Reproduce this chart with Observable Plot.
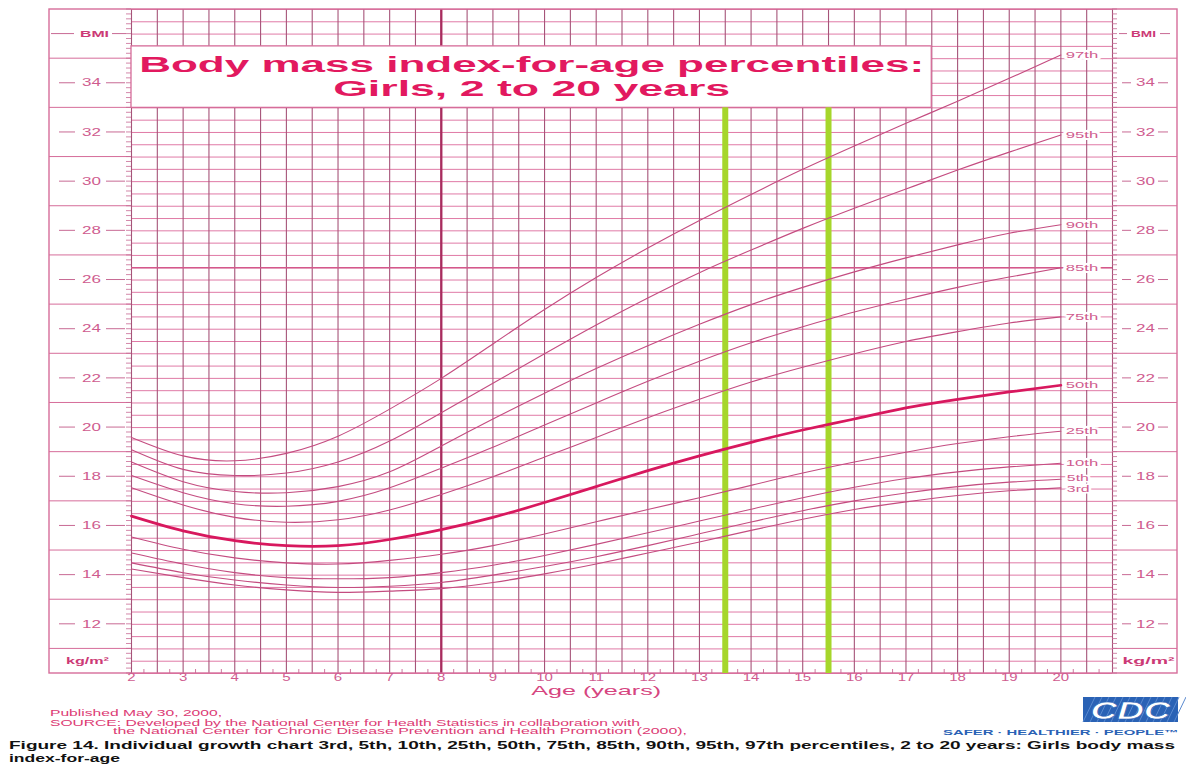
<!DOCTYPE html>
<html>
<head>
<meta charset="utf-8">
<script src="https://cdn.jsdelivr.net/npm/d3@7"></script>
<script src="https://cdn.jsdelivr.net/npm/@observablehq/plot@0.6"></script>
<style>
html,body{margin:0;padding:0;background:#fff;}
#wrap{position:relative;width:1186px;height:764px;overflow:hidden;font-family:'Liberation Sans',Arial,sans-serif;}
#wrap svg{display:block;}
</style>
</head>
<body>
<div id="wrap"></div>
<script>
// ---------- data ----------
const ages = [2,3,4,5,6,7,8,9,10,11,12,13,14,15,16,17,18,19,20];
const p3  = [14.25,13.9,13.6,13.4,13.3,13.35,13.45,13.7,14.05,14.45,14.9,15.35,15.82,16.27,16.67,16.98,17.24,17.43,17.55];
const p5  = [14.5,14.1,13.8,13.6,13.5,13.55,13.7,14.0,14.35,14.75,15.2,15.68,16.16,16.62,17.02,17.34,17.6,17.78,17.9];
const p10 = [14.9,14.45,14.1,13.9,13.85,13.9,14.1,14.4,14.8,15.25,15.72,16.2,16.68,17.15,17.57,17.93,18.2,18.4,18.55];
const p25 = [15.55,15.05,14.7,14.5,14.45,14.6,14.85,15.2,15.67,16.17,16.67,17.15,17.65,18.15,18.6,19.0,19.35,19.63,19.85];
const p50 = [16.4,15.8,15.4,15.2,15.2,15.45,15.85,16.35,16.95,17.6,18.25,18.85,19.4,19.9,20.35,20.8,21.15,21.45,21.72];
const p75 = [17.55,16.85,16.35,16.15,16.25,16.65,17.28,18.0,18.8,19.6,20.4,21.15,21.85,22.45,23.0,23.5,23.9,24.25,24.5];
const p85 = [18.05,17.35,16.9,16.8,17.0,17.55,18.35,19.2,20.1,21.0,21.88,22.7,23.45,24.1,24.7,25.22,25.7,26.12,26.5];
const p90 = [18.6,17.8,17.4,17.35,17.6,18.2,19.25,20.35,21.4,22.4,23.33,24.2,25.0,25.7,26.33,26.9,27.43,27.9,28.25];
const p95 = [19.1,18.3,18.05,18.15,18.6,19.45,20.6,21.8,23.0,24.17,25.27,26.3,27.22,28.1,28.92,29.7,30.47,31.2,31.9];
const p97 = [19.6,18.85,18.65,18.95,19.65,20.75,22.0,23.4,24.8,26.1,27.3,28.42,29.48,30.5,31.45,32.37,33.27,34.2,35.15];
const pctNames = ["3rd","5th","10th","25th","50th","75th","85th","90th","95th","97th"];
const pctValues = [p3,p5,p10,p25,p50,p75,p85,p90,p95,p97];
const medianName = "50th";

const xTicks = [2,3,4,5,6,7,8,9,10,11,12,13,14,15,16,17,18,19,20];
const yTicks = [12,14,16,18,20,22,24,26,28,30,32,34];
const unitTop = [{t:"BMI", v:36}];
const unitBottom = [{t:"kg/m\u00b2", v:10.5}];
const xDomain = [2, 21];
const yDomain = [10, 37];
const markerAges = [13.5, 15.5];      // green highlight lines
const emphasisAge = [8];              // darker vertical rule
const foldBMI = [26.5];               // darker horizontal line
const titleBox = [{a1:2, a2:17.5, b1:33, b2:35.5}];
const titleLine1 = "Body mass index-for-age percentiles:";
const titleLine2 = "Girls, 2 to 20 years";
const xTitle = [{t:"Age (years)", a:11}];
const published = "Published May 30, 2000,";
const source1 = "SOURCE: Developed by the National Center for Health Statistics in collaboration with";
const source2 = "the National Center for Chronic Disease Prevention and Health Promotion (2000),";
const caption1 = "Figure 14. Individual growth chart 3rd, 5th, 10th, 25th, 50th, 75th, 85th, 90th, 95th, 97th percentiles, 2 to 20 years: Girls body mass";
const caption2 = "index-for-age";
const logoText = "CDC";
const logoTag = "SAFER \u00b7 HEALTHIER \u00b7 PEOPLE\u2122";

// ---------- derived tables ----------
const rows = [];
pctNames.forEach((n, k) => pctValues[k].forEach((v, i) => rows.push({pct:n, age:ages[i], bmi:v})));
const endRows = pctNames.map((n, k) => ({pct:n, age:ages[ages.length-1], bmi:pctValues[k][pctValues[k].length-1]}));
const gridAge = d3.range(0, 39).map(i => xDomain[0] + i*0.5);
const gridBMI = d3.range(0, 55).map(i => yDomain[0] + i*0.5);
const minorBMI = d3.range(0, 136).map(i => yDomain[0] + i*0.2);
const minorAge = d3.range(0, 19).map(i => xDomain[0] + 0.25 + i);
const minorAge2 = d3.range(0, 19).map(i => xDomain[0] + 0.75 + i);
const marginLineBMI = d3.range(11, 36, 2);
const tb = titleBox[0];
const titleAnchor = [{x:(tb.a1+tb.a2)/2, y:(tb.b1+tb.b2)/2}];

// ---------- colours ----------
const hGrid = "#e07aa6", vGrid = "#a65479", frameC = "#d66d9a", tickC = "#c86a94";
const labelC = "#cf5c8f", titleC = "#e2195f", unitC = "#cc3a76";

function decor(index, scales, values, dim) {
  const {x, y} = scales;
  const L = dim.marginLeft, R = dim.width - dim.marginRight;
  const T = dim.marginTop, B = dim.height - dim.marginBottom;
  const F0 = L - 82, F1 = R + 65;
  const g = d3.create("svg:g").attr("fill", "none");
  const line = (x1, y1, x2, y2, c, w) => g.append("line")
    .attr("x1", x1).attr("y1", y1).attr("x2", x2).attr("y2", y2)
    .attr("stroke", c).attr("stroke-width", w);
  for (const v of marginLineBMI) {
    line(F0, y(v), L, y(v), frameC, 1);
    line(R, y(v), F1, y(v), frameC, 1);
  }
  g.append("rect").attr("x", F0).attr("y", T).attr("width", F1 - F0).attr("height", B - T)
    .attr("stroke", frameC).attr("stroke-width", 1.4);
  for (const v of minorBMI) {
    line(L - 5, y(v), L, y(v), tickC, 0.8);
    line(R, y(v), R + 5, y(v), tickC, 0.8);
  }
  for (const v of yTicks) {
    line(F0 + 10, y(v), L - 56, y(v), tickC, 1);
    line(L - 25, y(v), L - 6, y(v), tickC, 1);
    line(R + 10, y(v), R + 19, y(v), tickC, 1);
    line(R + 46, y(v), R + 56, y(v), tickC, 1);
  }
  for (const d of unitTop) {
    line(F0 + 2, y(d.v), L - 57, y(d.v), tickC, 1);
    line(L - 19, y(d.v), L - 5, y(d.v), tickC, 1);
    line(R + 7, y(d.v), R + 15, y(d.v), tickC, 1);
    line(R + 48, y(d.v), R + 58, y(d.v), tickC, 1);
  }
  for (const a of minorAge.concat(minorAge2)) line(x(a), B - 4, x(a), B, tickC, 0.9);
  return g.node();
}

const tag = (name) => ({ariaLabel: () => name, ariaDescription: name});

const chart = Plot.plot({
  width: 1186, height: 702,
  marginLeft: 131, marginRight: 74, marginTop: 9, marginBottom: 29,
  x: {domain: xDomain, axis: null},
  y: {domain: yDomain, axis: null},
  style: {fontFamily: "'Liberation Sans', Arial, sans-serif", background: "white", overflow: "visible"},
  marks: [
    Plot.ruleY(gridBMI, {stroke: hGrid, strokeWidth: 1}),
    Plot.ruleX(gridAge, {stroke: vGrid, strokeWidth: 1.1}),
    Plot.ruleY(foldBMI, {stroke: "#d4588b", strokeWidth: 1.6}),
    Plot.ruleX(emphasisAge, {stroke: "#a82c5e", strokeWidth: 2.3}),
    decor,
    Plot.rect(titleBox, {x1: "a1", x2: "a2", y1: "b1", y2: "b2", fill: "white", stroke: frameC, strokeWidth: 1.3}),
    Plot.ruleX(markerAges, {y1: yDomain[0], y2: tb.b1, stroke: "#a6d62b", strokeWidth: 6}),
    Plot.line(rows.filter(d => d.pct !== medianName), {x: "age", y: "bmi", z: "pct", stroke: "#c44c80", strokeWidth: 1.1, curve: "natural"}),
    Plot.line(rows.filter(d => d.pct === medianName), {x: "age", y: "bmi", stroke: "#d8185e", strokeWidth: 2.7, curve: "natural"}),
    Plot.text(endRows.filter(d => d.pct !== "5th" && d.pct !== "3rd"), {x: "age", y: "bmi", text: "pct", dx: 5, textAnchor: "start", fill: labelC, stroke: "white", strokeWidth: 4, paintOrder: "stroke", fontSize: 9.5, ...tag("pct")}),
    Plot.text(endRows.filter(d => d.pct === "5th"), {x: "age", y: "bmi", text: "pct", dx: 6, dy: -1.5, textAnchor: "start", fill: labelC, stroke: "white", strokeWidth: 3, paintOrder: "stroke", fontSize: 9, ...tag("pct")}),
    Plot.text(endRows.filter(d => d.pct === "3rd"), {x: "age", y: "bmi", text: "pct", dx: 6, dy: 1.5, textAnchor: "start", fill: labelC, stroke: "white", strokeWidth: 3, paintOrder: "stroke", fontSize: 9, ...tag("pct")}),
    Plot.text(yTicks, {y: d => d, text: d => String(d), frameAnchor: "left", dx: -40, textAnchor: "middle", fill: labelC, fontSize: 10, ...tag("ylab-left")}),
    Plot.text(yTicks, {y: d => d, text: d => String(d), frameAnchor: "right", dx: 33, textAnchor: "middle", fill: labelC, fontSize: 10, ...tag("ylab-right")}),
    Plot.text(unitTop, {y: "v", text: "t", frameAnchor: "left", dx: -37, textAnchor: "middle", fill: unitC, fontWeight: "bold", fontSize: 9.5, ...tag("unit-top-left")}),
    Plot.text(unitTop, {y: "v", text: "t", frameAnchor: "right", dx: 31, textAnchor: "middle", fill: unitC, fontWeight: "bold", fontSize: 9.5, ...tag("unit-top-right")}),
    Plot.text(unitBottom, {y: "v", text: "t", frameAnchor: "left", dx: -44, textAnchor: "middle", fill: unitC, fontWeight: "bold", fontSize: 9.5, ...tag("unit-bot-left")}),
    Plot.text(unitBottom, {y: "v", text: "t", frameAnchor: "right", dx: 36, textAnchor: "middle", fill: unitC, fontWeight: "bold", fontSize: 9.5, ...tag("unit-bot-right")}),
    Plot.text(xTicks, {x: d => d, text: d => String(d), frameAnchor: "bottom", dy: 7, fill: labelC, fontSize: 10, ...tag("xlab")}),
    Plot.text(xTitle, {x: "a", text: "t", frameAnchor: "bottom", dy: 21.8, fill: "#d6457f", fontSize: 13, ...tag("xtitle")}),
    Plot.text(titleAnchor, {x: "x", y: "y", text: () => titleLine1, dy: -12.6, fill: titleC, fontWeight: "bold", fontSize: 22, ...tag("title1")}),
    Plot.text(titleAnchor, {x: "x", y: "y", text: () => titleLine2, dy: 11.9, fill: titleC, fontWeight: "bold", fontSize: 22, ...tag("title2")})
  ]
});

const wrap = document.getElementById("wrap");
wrap.appendChild(chart);

function stretchGroup(label, factor, fixed) {
  const sel = d3.select(chart).selectAll(`text[aria-label="${label}"], g[aria-description="${label}"] text`);
  sel.each(function() {
    const w = fixed != null ? fixed : this.getComputedTextLength() * factor;
    if (!(w > 0)) return;
    this.setAttribute("textLength", w);
    this.setAttribute("lengthAdjust", "spacingAndGlyphs");
  });
}
stretchGroup("pct", 1.75);
stretchGroup("ylab-left", 1.7);
stretchGroup("ylab-right", 1.7);
stretchGroup("unit-top-left", 1, 29);
stretchGroup("unit-top-right", 1, 25);
stretchGroup("unit-bot-left", 1, 43);
stretchGroup("unit-bot-right", 1, 52);
stretchGroup("xlab", 1.5);
stretchGroup("xtitle", 1, 130);
stretchGroup("title1", 1, 785);
stretchGroup("title2", 1, 397);

// ---------- footer (below the chart) ----------
const foot = d3.select(wrap).append("svg")
  .attr("width", 1186).attr("height", 764)
  .style("position", "absolute").style("left", "0px").style("top", "0px")
  .style("pointer-events", "none")
  .attr("font-family", "'Liberation Sans', Arial, sans-serif");
function ftext(t, x, y, size, fill, weight, width) {
  return foot.append("text").attr("x", x).attr("y", y).attr("font-size", size)
    .attr("fill", fill).attr("font-weight", weight)
    .attr("textLength", width).attr("lengthAdjust", "spacingAndGlyphs").text(t);
}
ftext(published, 50, 716, 9, "#dc3b74", "normal", 172);
ftext(source1, 50, 725.5, 9, "#dc3b74", "normal", 590);
ftext(source2, 113, 734, 9, "#dc3b74", "normal", 574);
ftext(caption1, 9, 749, 10.5, "#111", "bold", 1166);
ftext(caption2, 9, 762, 10.5, "#111", "bold", 111);
// logo
foot.append("rect").attr("x", 1083).attr("y", 697).attr("width", 95).attr("height", 25).attr("fill", "#2a62b5");
for (let i = 0; i < 14; i++) {
  foot.append("line").attr("x1", 1083 + i * 7).attr("y1", 722).attr("x2", 1083 + i * 7 + 12).attr("y2", 697)
    .attr("stroke", "#5a8ad0").attr("stroke-width", 1);
}
foot.append("text").attr("x", 1130.5).attr("y", 719).attr("text-anchor", "middle")
  .attr("font-size", 24).attr("font-weight", "bold").attr("font-style", "italic")
  .attr("fill", "white").attr("stroke", "#2a62b5").attr("stroke-width", 0.6)
  .attr("textLength", 80).attr("lengthAdjust", "spacingAndGlyphs").text(logoText);
ftext(logoTag, 943, 735, 7, "#2a62b5", "bold", 236);
</script>
</body>
</html>
